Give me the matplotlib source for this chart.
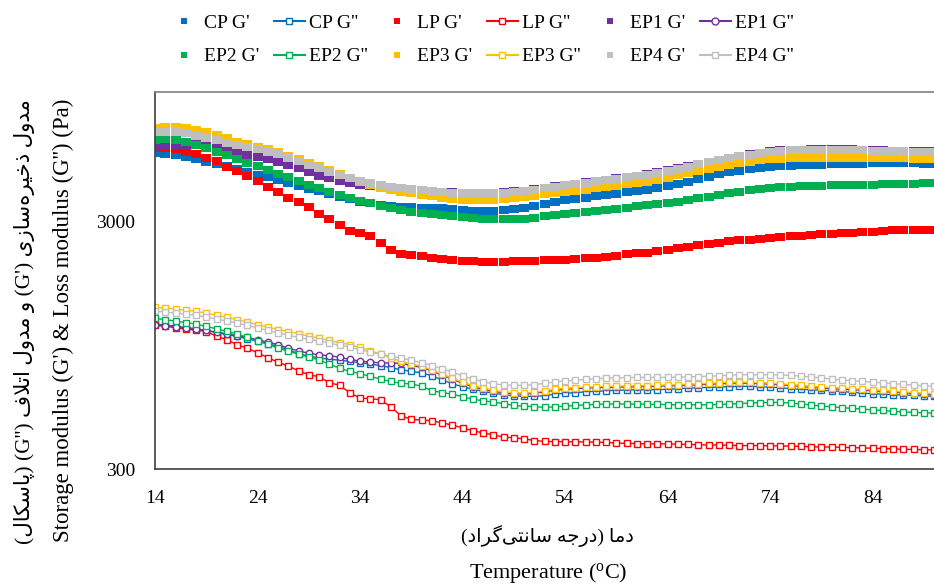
import matplotlib
matplotlib.use('Agg')
import matplotlib.pyplot as plt
from matplotlib.lines import Line2D
from matplotlib.ticker import NullLocator

plt.rcParams['font.family'] = ['Liberation Serif', 'DejaVu Sans']
plt.rcParams['mathtext.fontset'] = 'custom'
plt.rcParams['mathtext.rm'] = 'Liberation Serif'

# temperature (deg C), one reading per degree
temp = list(range(14, 91))

# storage modulus G' (Pa)
cp_g1 = [5681, 5628, 5550, 5447, 5347, 5234, 5122, 5009, 4894, 4758,
         4627, 4531, 4397, 4284, 4177, 4073, 3979, 3877, 3780, 3683,
         3605, 3549, 3506, 3467, 3441, 3425, 3412, 3400, 3387, 3362,
         3337, 3319, 3309, 3319, 3340, 3368, 3403, 3467, 3539, 3609,
         3666, 3707, 3745, 3788, 3834, 3884, 3932, 3983, 4035, 4108,
         4185, 4264, 4344, 4446, 4550, 4649, 4750, 4817, 4880, 4940,
         4995, 5018, 5037, 5055, 5070, 5089, 5103, 5117, 5132, 5141,
         5146, 5151, 5151, 5151, 5146, 5141, 5137]
lp_g1 = [5926, 5954, 5898, 5733, 5602, 5422, 5248, 4985, 4781, 4584,
         4376, 4119, 3932, 3735, 3582, 3435, 3218, 3057, 2903, 2745,
         2695, 2621, 2455, 2290, 2216, 2192, 2175, 2145, 2125, 2105,
         2085, 2072, 2066, 2066, 2066, 2072, 2080, 2085, 2091, 2099,
         2105, 2115, 2131, 2145, 2165, 2185, 2206, 2227, 2247, 2275,
         2305, 2337, 2370, 2403, 2432, 2462, 2490, 2513, 2532, 2551,
         2568, 2589, 2609, 2631, 2651, 2663, 2676, 2688, 2701, 2716,
         2731, 2745, 2758, 2761, 2763, 2766, 2766]
ep1_g1 = [6009, 6037, 6094, 6134, 6151, 6066, 5954, 5814, 5655, 5550,
          5447, 5347, 5224, 5079, 4916, 4746, 4584, 4479, 4376, 4296,
          4216, 4158, 4119, 4081, 4062, 4043, 4024, 3987, 3961, 3938,
          3920, 3913, 3913, 3920, 3938, 3969, 3998, 4043, 4100, 4157,
          4217, 4268, 4324, 4376, 4430, 4488, 4542, 4597, 4658, 4737,
          4826, 4917, 5018, 5127, 5223, 5332, 5437, 5525, 5612, 5692,
          5772, 5804, 5831, 5847, 5858, 5858, 5858, 5858, 5858, 5842,
          5820, 5804, 5787, 5777, 5766, 5756, 5750]
ep2_g1 = [6414, 6444, 6414, 6295, 6122, 5926, 5733, 5550, 5347, 5175,
          5009, 4848, 4671, 4521, 4376, 4216, 4081, 3950, 3841, 3735,
          3632, 3549, 3467, 3387, 3325, 3278, 3233, 3203, 3173, 3144,
          3115, 3086, 3071, 3063, 3063, 3068, 3077, 3100, 3144, 3188,
          3224, 3248, 3278, 3309, 3340, 3372, 3410, 3451, 3493, 3533,
          3572, 3609, 3656, 3718, 3780, 3845, 3906, 3957, 4005, 4051,
          4092, 4115, 4134, 4154, 4169, 4181, 4193, 4200, 4208, 4220,
          4228, 4240, 4248, 4256, 4264, 4272, 4276]
ep3_g1 = [7139, 7240, 7240, 7173, 7040, 6878, 6720, 6505, 6295, 6151,
          6009, 5869, 5707, 5524, 5347, 5175, 5009, 4826, 4649, 4479,
          4316, 4197, 4100, 4024, 3957, 3895, 3841, 3788, 3742, 3707,
          3676, 3656, 3649, 3666, 3700, 3735, 3777, 3816, 3859, 3903,
          3943, 3987, 4035, 4081, 4146, 4181, 4236, 4288, 4344, 4426,
          4513, 4602, 4693, 4790, 4889, 4990, 5089, 5161, 5234, 5297,
          5347, 5382, 5407, 5422, 5432, 5432, 5432, 5432, 5432, 5427,
          5422, 5417, 5412, 5402, 5387, 5372, 5362]
ep4_g1 = [6910, 6910, 6878, 6814, 6657, 6534, 6384, 6237, 6094, 5981,
          5869, 5733, 5602, 5422, 5248, 5079, 4916, 4759, 4606, 4479,
          4356, 4276, 4197, 4138, 4088, 4043, 4005, 3968, 3942, 3920,
          3902, 3895, 3895, 3902, 3920, 3950, 3979, 4024, 4081, 4138,
          4197, 4248, 4304, 4356, 4409, 4467, 4521, 4575, 4636, 4715,
          4803, 4894, 4995, 5103, 5199, 5307, 5412, 5499, 5586, 5665,
          5745, 5777, 5804, 5820, 5831, 5831, 5831, 5831, 5831, 5815,
          5793, 5777, 5760, 5750, 5739, 5729, 5723]

# loss modulus G'' (Pa)
cp_g2 = [1154, 1144, 1133, 1117, 1104, 1087, 1067, 1047, 1030, 1008,
         985, 963, 939, 910, 877, 857, 843, 833, 825, 817,
         806, 796, 785, 770, 755, 744, 734, 714, 688, 663,
         645, 630, 618, 607, 599, 592, 590, 590, 593, 602,
         607, 610, 615, 618, 621, 624, 625, 627, 627, 627,
         630, 633, 636, 639, 641, 643, 645, 647, 647, 645,
         642, 639, 633, 630, 627, 624, 621, 617, 612, 608,
         604, 602, 599, 597, 595, 592, 590]
lp_g2 = [1149, 1133, 1117, 1102, 1092, 1077, 1032, 999, 954, 923,
         885, 845, 810, 781, 748, 721, 708, 669, 654, 610,
         580, 577, 571, 535, 492, 476, 473, 470, 461, 451,
         440, 428, 420, 412, 404, 401, 397, 391, 388, 387,
         387, 386, 386, 385, 384, 382, 381, 380, 379, 379,
         379, 378, 377, 376, 375, 375, 374, 373, 373, 373,
         372, 372, 371, 370, 369, 368, 368, 367, 366, 365,
         364, 363, 362, 360, 360, 359, 358]
ep1_g2 = [1142, 1133, 1125, 1115, 1104, 1089, 1072, 1055, 1037, 1020,
          999, 976, 954, 923, 900, 881, 867, 861, 849, 831,
          819, 810, 806, 804, 802, 786, 772, 748, 718, 693,
          666, 645, 631, 618, 610, 604, 602, 607, 615, 624,
          630, 634, 637, 639, 641, 642, 644, 645, 646, 648,
          650, 651, 654, 657, 660, 663, 666, 667, 666, 664,
          661, 657, 652, 647, 642, 637, 634, 631, 628, 624,
          621, 617, 613, 610, 606, 602, 599]
ep2_g2 = [1218, 1204, 1187, 1171, 1154, 1130, 1105, 1080, 1054, 1020,
          987, 956, 925, 897, 873, 849, 827, 796, 766, 744,
          728, 710, 693, 677, 666, 662, 648, 622, 611, 602,
          588, 574, 566, 559, 551, 542, 538, 536, 532, 535,
          538, 542, 545, 547, 549, 549, 549, 549, 548, 547,
          546, 545, 545, 545, 545, 547, 549, 551, 554, 556,
          557, 557, 554, 549, 544, 539, 535, 531, 527, 524,
          520, 517, 513, 510, 508, 506, 504]
ep3_g2 = [1352, 1340, 1327, 1315, 1300, 1279, 1255, 1230, 1204, 1176,
          1149, 1123, 1097, 1077, 1057, 1032, 1013, 992, 972, 954,
          929, 902, 873, 843, 816, 796, 780, 755, 724, 699,
          672, 651, 637, 624, 615, 610, 608, 612, 621, 630,
          636, 640, 643, 645, 647, 648, 650, 651, 652, 654,
          656, 657, 660, 663, 666, 670, 672, 674, 672, 670,
          667, 663, 658, 653, 648, 643, 640, 637, 634, 630,
          627, 623, 619, 615, 611, 607, 604]
ep4_g2 = [1303, 1291, 1279, 1267, 1253, 1232, 1210, 1187, 1167, 1140,
          1115, 1089, 1064, 1042, 1020, 1001, 988, 969, 948, 932,
          910, 889, 873, 857, 841, 825, 806, 785, 762, 741,
          712, 693, 675, 663, 656, 653, 653, 657, 666, 674,
          680, 685, 690, 694, 698, 701, 702, 703, 703, 703,
          703, 705, 707, 709, 711, 714, 718, 721, 721, 721,
          721, 719, 716, 712, 706, 700, 693, 687, 682, 677,
          673, 669, 664, 659, 655, 651, 647]

samples = ['CP', 'LP', 'EP1', 'EP2', 'EP3', 'EP4']
colors = ['#0070C0', '#FF0000', '#7030A0', '#00B050', '#FFC000', '#BFBFBF']
g1_all = [cp_g1, lp_g1, ep1_g1, ep2_g1, ep3_g1, ep4_g1]
g2_all = [cp_g2, lp_g2, ep1_g2, ep2_g2, ep3_g2, ep4_g2]
g2_markers = ['s', 's', 'o', 's', 's', 's']

# Persian text: no shaping engine in matplotlib, so pick presentation forms by hand
# forms: isolated, final, initial, medial
FORMS = {
    'ا': ('\uFE8D', '\uFE8E', None, None),
    'پ': ('\uFB56', '\uFB57', '\uFB58', '\uFB59'),
    'ت': ('\uFE95', '\uFE96', '\uFE97', '\uFE98'),
    'ج': ('\uFE9D', '\uFE9E', '\uFE9F', '\uFEA0'),
    'خ': ('\uFEA5', '\uFEA6', '\uFEA7', '\uFEA8'),
    'د': ('\uFEA9', '\uFEAA', None, None),
    'ذ': ('\uFEAB', '\uFEAC', None, None),
    'ر': ('\uFEAD', '\uFEAE', None, None),
    'ز': ('\uFEAF', '\uFEB0', None, None),
    'س': ('\uFEB1', '\uFEB2', '\uFEB3', '\uFEB4'),
    'ف': ('\uFED1', '\uFED2', '\uFED3', '\uFED4'),
    'ک': ('\uFB8E', '\uFB8F', '\uFB90', '\uFB91'),
    'گ': ('\uFB92', '\uFB93', '\uFB94', '\uFB95'),
    'ل': ('\uFEDD', '\uFEDE', '\uFEDF', '\uFEE0'),
    'م': ('\uFEE1', '\uFEE2', '\uFEE3', '\uFEE4'),
    'ن': ('\uFEE5', '\uFEE6', '\uFEE7', '\uFEE8'),
    'ه': ('\uFEE9', '\uFEEA', '\uFEEB', '\uFEEC'),
    'و': ('\uFEED', '\uFEEE', None, None),
    'ی': ('\uFBFC', '\uFBFD', '\uFBFE', '\uFBFF'),
}
MIRROR = {'(': ')', ')': '('}


def rtl(s):
    out = []
    i = 0
    while i < len(s):
        c = s[i]
        if c not in FORMS:
            if c != '\u200c':
                out.append(MIRROR.get(c, c))
            i += 1
            continue
        prev = s[i - 1] if i > 0 else ''
        joins_prev = prev in FORMS and FORMS[prev][2] is not None
        if c == 'ل' and i + 1 < len(s) and s[i + 1] == 'ا':
            out.append('\uFEFC' if joins_prev else '\uFEFB')
            i += 2
            continue
        nxt = s[i + 1] if i + 1 < len(s) else ''
        joins_next = FORMS[c][2] is not None and nxt in FORMS
        iso, fin, ini, med = FORMS[c]
        if joins_prev and joins_next:
            out.append(med)
        elif joins_prev:
            out.append(fin)
        elif joins_next:
            out.append(ini)
        else:
            out.append(iso)
        i += 1
    return ''.join(reversed(out))


ylab_parts = ['مدول ذخیره\u200cسازی', "(G')", 'و مدول اتلاف', "(G'')", '(پاسکال)']
ylab_fa = ' '.join(p if 'G' in p else rtl(p) for p in reversed(ylab_parts))
xlab_fa = rtl('دما (درجه سانتی\u200cگراد)')

# wide block marker so the dense G' points read as one band
block = [(-1.4, -1), (1.4, -1), (1.4, 1), (-1.4, 1), (-1.4, -1)]

fig = plt.figure(figsize=(9.34, 5.85), dpi=100)
ax = fig.add_axes([155 / 934, 1 - 469 / 585, 1 - 155 / 934, (469 - 92) / 585])

leg_handles = []
for name, c, g1, g2, m2 in zip(samples, colors, g1_all, g2_all, g2_markers):
    ax.plot(temp, g1, ls='none', marker=block, ms=7.4, mfc=c, mec=c, mew=0)
    ax.plot(temp, g2, '-', color=c, lw=1.0, marker=m2, ms=4.6, mfc='white',
            mec=c, mew=1.0)
    leg_handles.append(Line2D([], [], ls='none', marker='s', ms=5, mfc=c, mec=c,
                              mew=0, label=name + " G'"))
    leg_handles.append(Line2D([], [], ls='-', color=c, lw=1.5, marker=m2, ms=5,
                              mfc='white', mec=c, mew=1.0, label=name + " G''"))

ax.set_yscale('log')
ax.set_ylim(300, 10000)
ax.set_yticks([300, 3000])
ax.set_yticklabels(['300', '3000'])
ax.yaxis.set_minor_locator(NullLocator())
ax.set_xlim(14, 90)
ax.set_xticks(range(14, 90, 10))
ax.tick_params(axis='both', length=0, labelsize=14)
ax.tick_params(axis='x', pad=15)
ax.tick_params(axis='y', pad=14)

ax.spines['right'].set_visible(False)
ax.spines['top'].set_color('#808080')
ax.spines['left'].set_color('#404040')
ax.spines['bottom'].set_color('#404040')
for s in ['top', 'left', 'bottom']:
    ax.spines[s].set_linewidth(1.2)

# row-wise legend: first six entries on the top row
order = []
for j in range(6):
    order += [leg_handles[j], leg_handles[j + 6]]
fig.legend(order, [h.get_label() for h in order], ncol=6, loc='upper center',
           bbox_to_anchor=(0.515, 1.005), frameon=False, fontsize=14,
           handlelength=1.6, handletextpad=0.2, columnspacing=0.75,
           labelspacing=0.8)

fig.text(547 / 934, 1 - 536 / 585, xlab_fa, ha='center', va='center', fontsize=14)
fig.text(548 / 934, 1 - 573 / 585, 'Temperature ($\\mathregular{^{o}}$C)',
         ha='center', va='center', fontsize=16)
fig.text(25 / 934, 1 - 322 / 585, ylab_fa, rotation=90, ha='center', va='center',
         fontsize=15.4)
fig.text(63 / 934, 1 - 320 / 585, "Storage modulus (G') & Loss modulus (G'') (Pa)",
         rotation=90, ha='center', va='center', fontsize=16.5)

fig.savefig('out.png', dpi=100)
